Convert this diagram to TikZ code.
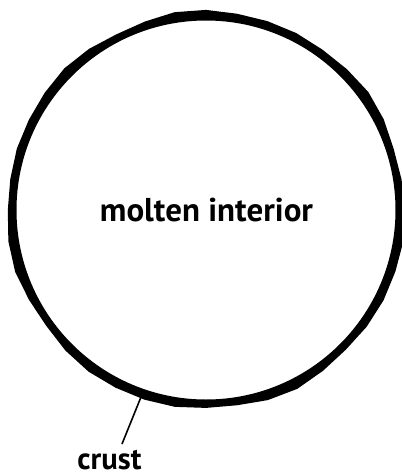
\documentclass[tikz,border=0pt]{standalone}
\usepackage{fontspec}
\setmainfont{PT Sans}
\begin{document}
\begin{tikzpicture}[x=1pt,y=-1pt,
  labeltext/.style={inner sep=0pt,anchor=base,font=\bfseries}]
\useasboundingbox (0,0) rectangle (402,475);
\coordinate (c) at (206,210);
% crust ring with slightly faceted outer edge
\fill[black,even odd rule]
  plot[samples=41,domain=0:360] ({206+(199+1.1*sin(7*\x)+0.8*cos(11*\x))*cos(\x)},{210+(199+1.1*sin(7*\x)+0.8*cos(11*\x))*sin(\x)}) -- cycle
  (c) circle[radius=189.5];
\node[labeltext] (interior) at (206.5,221) {\resizebox{213pt}{!}{molten interior}};
\node[labeltext] (crust) at (109.5,469) {\resizebox{64pt}{!}{crust}};
\coordinate (onring) at (141,397);
\coordinate (lblTop) at (122,444);
\draw[line width=1.6pt] (lblTop) -- (onring);
\end{tikzpicture}
\end{document}
